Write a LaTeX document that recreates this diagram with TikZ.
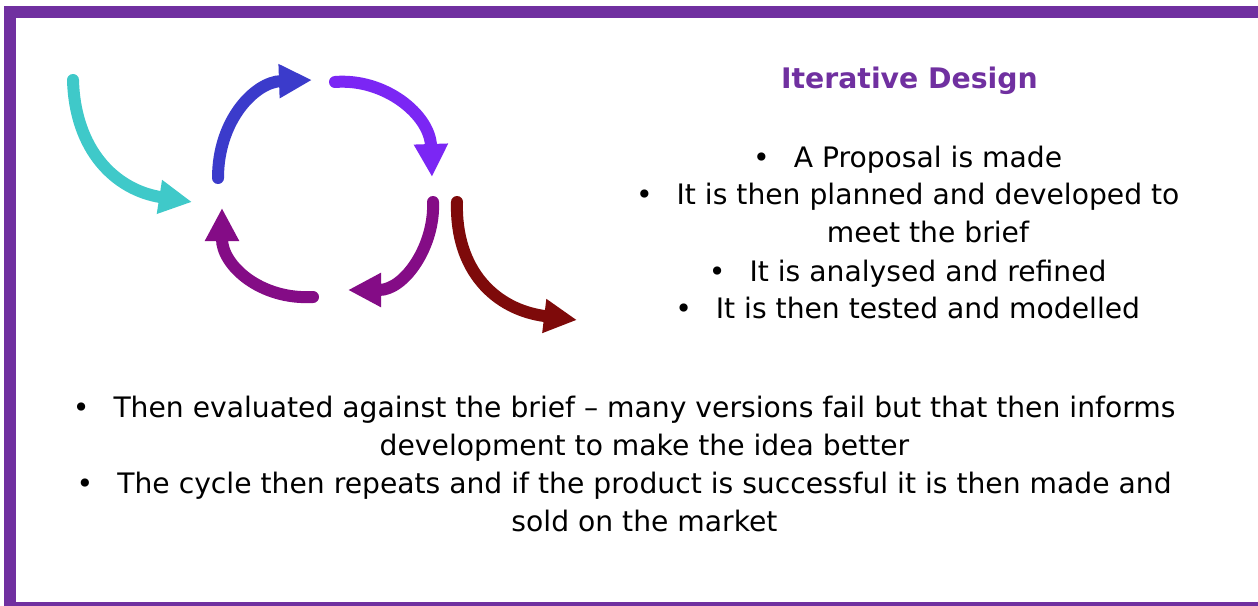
\documentclass[tikz,border=0pt]{standalone}
\usepackage{fontspec}
\setmainfont{DejaVu Sans}
\usetikzlibrary{arrows.meta}
\definecolor{slidepurple}{HTML}{7030A0}
\definecolor{cyclecyan}{HTML}{3FC9C9}
\definecolor{cycleblue}{HTML}{3B3BCB}
\definecolor{cycleviolet}{HTML}{7B26F4}
\definecolor{cyclepurple}{HTML}{840C86}
\definecolor{cyclered}{HTML}{7E0A0A}
\newcommand{\itembul}{\llap{\textbullet\hspace{24pt}}}

\begin{document}
\begin{tikzpicture}[x=1pt, y=-1pt,
  cyclearrow/.style={line width=12pt, line cap=round, -{Triangle[width=32pt,length=33pt]}},
  headtext/.style={anchor=base, inner sep=0, font=\fontsize{28.3}{34}\selectfont\bfseries, text=slidepurple},
  righttext/.style={anchor=base, inner sep=0, font=\fontsize{28.2}{34}\selectfont},
  lowtext/.style={anchor=base, inner sep=0, font=\fontsize{28.2}{34}\selectfont}]
\useasboundingbox (0,0) rectangle (1258,605);
\clip (0,0) rectangle (1258,605);
\fill[white] (0,0) rectangle (1258,605);
\draw[slidepurple, line width=12pt] (10,12) rectangle (1270,608);
\foreach \col/\s/\ca/\cb/\e in {cyclecyan/{73,80}/{75,150}/{115,190}/{192,202},
    cycleblue/{218,178}/{218,120}/{255,82}/{312,80},
    cycleviolet/{335,82}/{385,78}/{430,115}/{432,177},
    cyclepurple/{433,202}/{435,245}/{405,290}/{348,290},
    cyclepurple/{313,297}/{260,300}/{222,265}/{222,208},
    cyclered/{457,202}/{455,270}/{495,310}/{577,320}} {
 \draw[cyclearrow, draw=\col] (\s) .. controls (\ca) and (\cb) .. (\e);
}
\node[headtext] (title) at (909.5,88) {Iterative Design};
\node[righttext] (proposal) at (928,167) {\itembul A Proposal is made};
\node[righttext] (planned) at (928,204) {\itembul It is then planned and developed to};
\node[righttext] (brief) at (928,242) {meet the brief};
\node[righttext] (refined) at (928,281) {\itembul It is analysed and refined};
\node[righttext] (tested) at (928,318) {\itembul It is then tested and modelled};
\node[lowtext] (evaluated) at (644.5,417) {\itembul Then evaluated against the brief – many versions fail but that then informs};
\node[lowtext] (better) at (644.5,455) {development to make the idea better};
\node[lowtext] (repeats) at (644.5,493) {\itembul The cycle then repeats and if the product is successful it is then made and};
\node[lowtext] (market) at (644.5,531) {sold on the market};
\end{tikzpicture}
\end{document}
